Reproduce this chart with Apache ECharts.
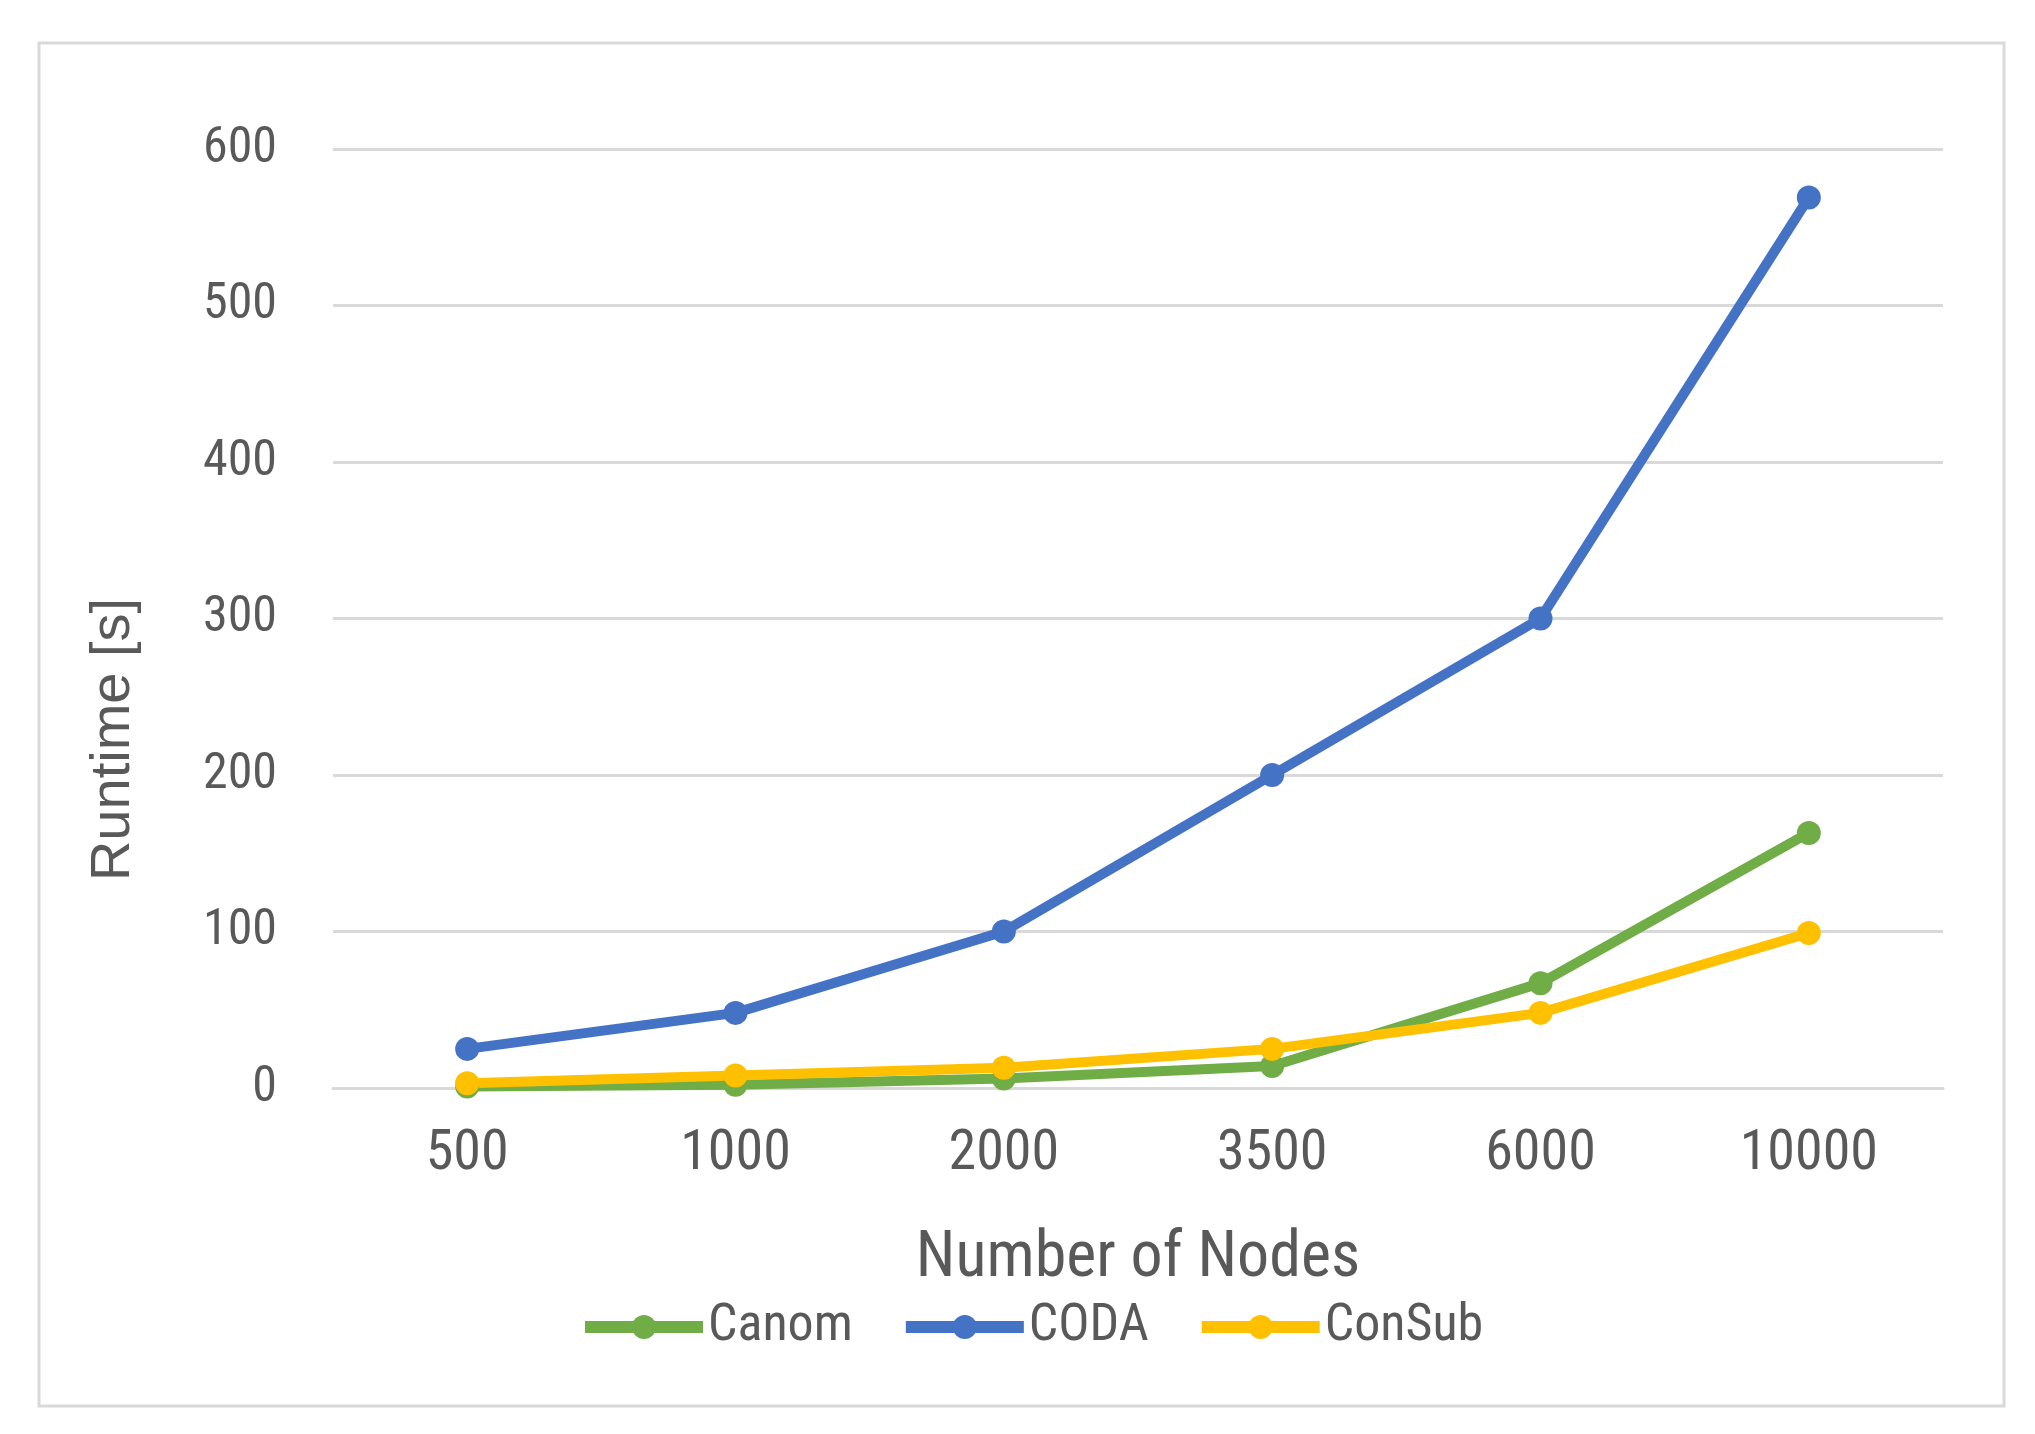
<!DOCTYPE html>
<html>
<head>
<meta charset="utf-8">
<style>
  html, body { margin: 0; padding: 0; background: #ffffff; }
  #chart { width: 2035px; height: 1434px; }
</style>
<script src="https://cdn.jsdelivr.net/npm/echarts@6/dist/echarts.min.js"></script>
</head>
<body>
<div id="chart"></div>
<script>
var categories = ['500', '1000', '2000', '3500', '6000', '10000'];
var canom = [1, 2, 6, 14, 67, 163];
var coda = [25, 48, 100, 200, 300, 569];
var consub = [3, 8, 13, 25, 48, 99];
var yTicks = { min: 0, max: 600, interval: 100 };

var narrow = "'Liberation Sans Narrow', 'Roboto Condensed', 'Liberation Sans', sans-serif";
var textColor = '#595959';

var chart = echarts.init(document.getElementById('chart'));
function lineSeries(name, data, color) {
  return {
    name: name,
    type: 'line',
    data: data,
    symbol: 'circle',
    symbolSize: 24,
    lineStyle: { color: color, width: 10 },
    itemStyle: { color: color },
    z: 3
  };
}
chart.setOption({
  backgroundColor: '#ffffff',
  animation: false,
  graphic: [{
    type: 'rect',
    shape: { x: 39, y: 43, width: 1965, height: 1363 },
    style: { fill: 'none', stroke: '#D9D9D9', lineWidth: 3 },
    z: -1
  }],
  grid: { left: 333, right: 92, top: 149, bottom: 346 },
  xAxis: {
    type: 'category',
    data: categories,
    boundaryGap: true,
    axisLine: { show: true, lineStyle: { color: '#D9D9D9', width: 3 } },
    axisTick: { show: false },
    axisLabel: { color: textColor, fontSize: 56, fontFamily: narrow, margin: 39 },
    name: 'Number of Nodes',
    nameLocation: 'middle',
    nameGap: 140,
    nameTextStyle: { color: textColor, fontSize: 64, fontFamily: narrow }
  },
  yAxis: {
    type: 'value',
    min: yTicks.min,
    max: yTicks.max,
    interval: yTicks.interval,
    axisLine: { show: false },
    axisTick: { show: false },
    splitLine: { lineStyle: { color: '#D9D9D9', width: 3 } },
    axisLabel: { color: textColor, fontSize: 50, fontFamily: narrow, margin: 56 },
    name: 'Runtime [s]',
    nameLocation: 'middle',
    nameGap: 191,
    nameTextStyle: { color: textColor, fontSize: 56, fontFamily: "'Liberation Sans', sans-serif", padding: [0, 242, 0, 0] }
  },
  legend: {
    left: 574,
    top: 1296,
    itemWidth: 118,
    itemHeight: 30,
    itemGap: 47,
    lineStyle: { width: 12 },
    textStyle: { color: textColor, fontSize: 52, fontFamily: narrow, padding: [0, 0, 0, 0] },
    data: ['Canom', 'CODA', 'ConSub']
  },
  series: [
    lineSeries('Canom', canom, '#70AD47'),
    lineSeries('CODA', coda, '#4472C4'),
    lineSeries('ConSub', consub, '#FFC000')
  ]
});
</script>
</body>
</html>
